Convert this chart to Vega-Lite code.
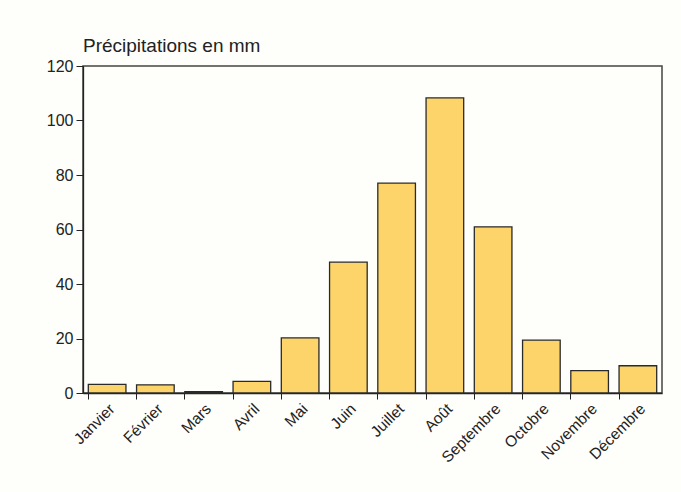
{
  "$schema": "https://vega.github.io/schema/vega-lite/v6.json",
  "width": 579,
  "height": 327,
  "autosize": {"type": "none"},
  "padding": {"left": 83, "top": 66, "right": 19, "bottom": 99},
  "background": "#fefefb",
  "title": {
    "text": "Précipitations en mm",
    "anchor": "start",
    "frame": "group",
    "font": "Liberation Sans",
    "fontSize": 19,
    "fontWeight": "normal",
    "color": "#222222",
    "offset": 2
  },
  "data": {
    "values": [
      {"mois": "Janvier", "mm": 3.2},
      {"mois": "Février", "mm": 3.0},
      {"mois": "Mars", "mm": 0.5},
      {"mois": "Avril", "mm": 4.3},
      {"mois": "Mai", "mm": 20.2},
      {"mois": "Juin", "mm": 48},
      {"mois": "Juillet", "mm": 77},
      {"mois": "Août", "mm": 108.3},
      {"mois": "Septembre", "mm": 61},
      {"mois": "Octobre", "mm": 19.4},
      {"mois": "Novembre", "mm": 8.2},
      {"mois": "Décembre", "mm": 10}
    ]
  },
  "mark": {"type": "bar", "fill": "#fcd469", "stroke": "#2a2a2a", "strokeWidth": 1.3},
  "encoding": {
    "x": {
      "field": "mois",
      "type": "nominal",
      "sort": null,
      "scale": {"paddingInner": 0.22, "paddingOuter": 0.11},
      "axis": {
        "title": null,
        "labelAngle": -45,
        "bandPosition": 0,
        "labelFont": "Liberation Sans",
        "labelFontSize": 15.5,
        "labelColor": "#222222",
        "domainColor": "#222222",
        "domainWidth": 1.3,
        "tickColor": "#222222",
        "tickSize": 6,
        "labelPadding": 2
      }
    },
    "y": {
      "field": "mm",
      "type": "quantitative",
      "scale": {"domain": [0, 120], "nice": false},
      "axis": {
        "title": null,
        "values": [0, 20, 40, 60, 80, 100, 120],
        "grid": false,
        "labelFont": "Liberation Sans",
        "labelFontSize": 16,
        "labelColor": "#222222",
        "domainColor": "#222222",
        "domainWidth": 1.3,
        "tickColor": "#222222",
        "tickSize": 7,
        "labelPadding": 3
      }
    }
  },
  "config": {
    "view": {"stroke": "#444444", "strokeWidth": 1.5}
  }
}
